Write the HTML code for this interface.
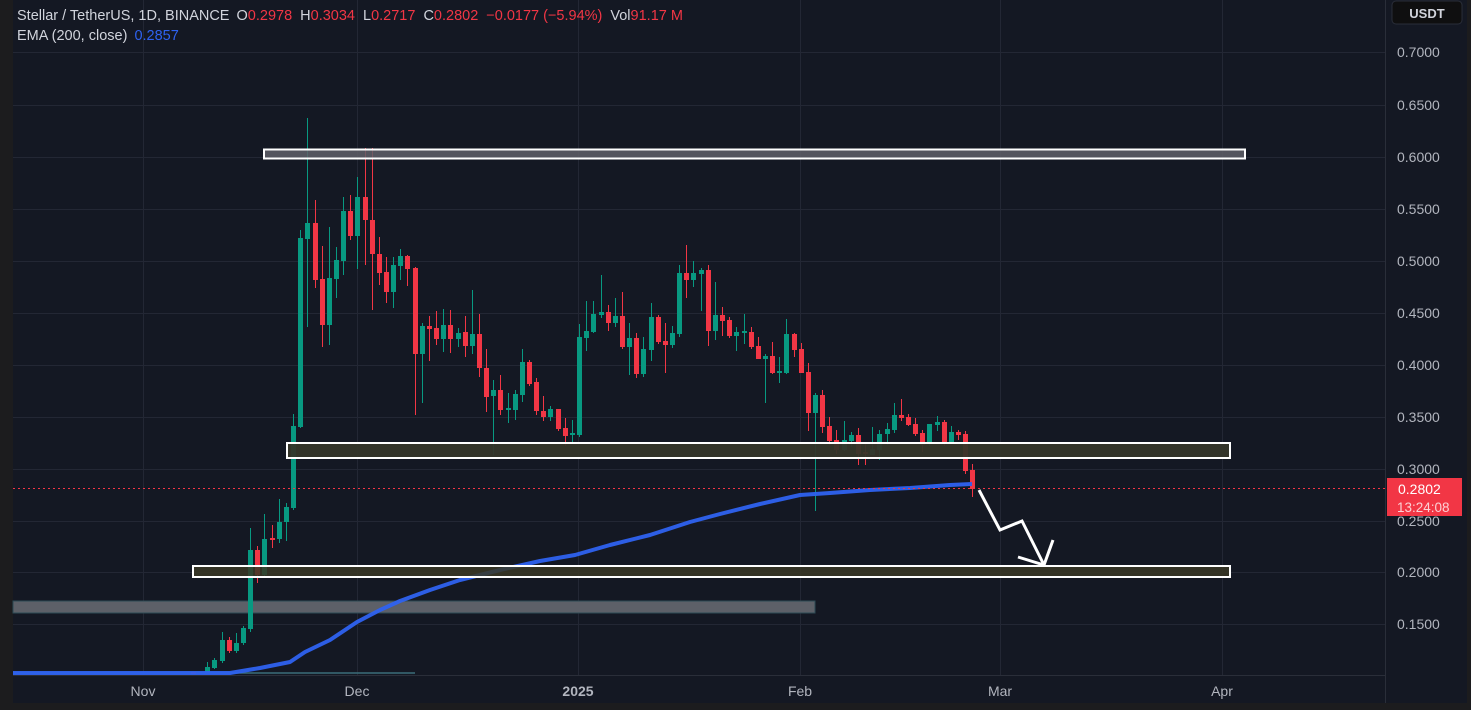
<!DOCTYPE html>
<html><head><meta charset="utf-8"><style>
html,body{margin:0;padding:0;background:#141823;width:1471px;height:710px;overflow:hidden;font-family:"Liberation Sans",sans-serif}
</style></head><body>
<svg id="s" width="1471" height="710" xmlns="http://www.w3.org/2000/svg" style="position:absolute;left:0;top:0">
<rect x="0" y="0" width="1471" height="710" fill="#141823"/>
<rect x="0" y="0" width="13" height="710" fill="#1c1c1e"/>
<rect x="13" y="703" width="1458" height="7" fill="#1c1c1e"/>
<rect x="1467" y="0" width="4" height="710" fill="#1c1c1e"/>
<g stroke="#232734" stroke-width="1">
<line x1="13" y1="52.5" x2="1385" y2="52.5"/><line x1="13" y1="105.5" x2="1385" y2="105.5"/>
<line x1="13" y1="157.5" x2="1385" y2="157.5"/><line x1="13" y1="209.5" x2="1385" y2="209.5"/>
<line x1="13" y1="261.5" x2="1385" y2="261.5"/><line x1="13" y1="313.5" x2="1385" y2="313.5"/>
<line x1="13" y1="365.5" x2="1385" y2="365.5"/><line x1="13" y1="417.5" x2="1385" y2="417.5"/>
<line x1="13" y1="469.5" x2="1385" y2="469.5"/><line x1="13" y1="521.5" x2="1385" y2="521.5"/>
<line x1="13" y1="572.5" x2="1385" y2="572.5"/><line x1="13" y1="624.5" x2="1385" y2="624.5"/>
<line x1="143.5" y1="0" x2="143.5" y2="675"/><line x1="357.5" y1="0" x2="357.5" y2="675"/>
<line x1="578.5" y1="0" x2="578.5" y2="675"/><line x1="800.5" y1="0" x2="800.5" y2="675"/>
<line x1="1000.5" y1="0" x2="1000.5" y2="675"/><line x1="1222.5" y1="0" x2="1222.5" y2="675"/>
</g>
<line x1="1385.5" y1="0" x2="1385.5" y2="703" stroke="#2a2e39"/>
<line x1="13" y1="675.5" x2="1385" y2="675.5" stroke="#2a2e39"/>
<rect x="13" y="601" width="802" height="12" fill="#5d6068" stroke="#2c4a55" stroke-width="1"/>
<line x1="13" y1="673" x2="415" y2="673" stroke="#3b6e7a" stroke-width="1.5"/>
<g id="candles"></g>
<polyline fill="none" stroke="#2e62f0" stroke-width="4" stroke-linejoin="round" opacity="0.95" points="13,673 230,673 260,668 290,662 305,652 330,640 357,622 380,610 400,601 430,590 460,580 500,570 540,561 575,555 610,545 650,535 690,522 720,514 760,504 800,495 830,493 870,490 910,488 950,485 972,484"/>
<rect x="264" y="149.5" width="981" height="9" fill="#5f6068" fill-opacity="0.85" stroke="#fff" stroke-width="2"/>
<rect x="287" y="443" width="943" height="15" fill="#35362a" fill-opacity="0.95" stroke="#fff" stroke-width="2"/>
<rect x="193" y="566" width="1037" height="11" fill="#3a3826" fill-opacity="0.85" stroke="#fff" stroke-width="2"/>
<line x1="13" y1="488.5" x2="1385" y2="488.5" stroke="#f23645" stroke-width="1" stroke-dasharray="2,3"/>
<polyline fill="none" stroke="#fff" stroke-width="3" stroke-linejoin="miter" points="979,490 1000,530 1022,521 1044,565"/>
<polyline fill="none" stroke="#fff" stroke-width="3" points="1018,557 1044,565 1053,540"/>
<g fill="#b2b5be" font-size="14" font-family="Liberation Sans, sans-serif">
<text x="1397" y="57">0.7000</text><text x="1397" y="110">0.6500</text><text x="1397" y="162">0.6000</text>
<text x="1397" y="214">0.5500</text><text x="1397" y="266">0.5000</text><text x="1397" y="318">0.4500</text>
<text x="1397" y="370">0.4000</text><text x="1397" y="422">0.3500</text><text x="1397" y="474">0.3000</text>
<text x="1397" y="526">0.2500</text><text x="1397" y="577">0.2000</text><text x="1397" y="629">0.1500</text>
<text x="143" y="696" text-anchor="middle">Nov</text><text x="357" y="696" text-anchor="middle">Dec</text>
<text x="578" y="696" text-anchor="middle" font-weight="bold">2025</text><text x="800" y="696" text-anchor="middle">Feb</text>
<text x="1000" y="696" text-anchor="middle">Mar</text><text x="1222" y="696" text-anchor="middle">Apr</text>
</g>
<rect x="1392" y="1" width="70" height="23" rx="4" fill="#0f0f10" stroke="#2a2e39"/>
<text x="1427" y="18" text-anchor="middle" fill="#d1d4dc" font-size="13" font-weight="bold">USDT</text>
<rect x="1387" y="478" width="75" height="38" fill="#f23645"/>
<text x="1398" y="494" fill="#fff" font-size="14">0.2802</text>
<text x="1397" y="512" fill="#fcd0d4" font-size="13.5">13:24:08</text>
<g font-size="14.5" font-family="Liberation Sans, sans-serif">
<text x="17" y="20" fill="#d1d4dc">Stellar / TetherUS, 1D, BINANCE <tspan fill="#d1d4dc" dx="3">O</tspan><tspan fill="#f23645">0.2978</tspan><tspan fill="#d1d4dc" dx="8">H</tspan><tspan fill="#f23645">0.3034</tspan><tspan fill="#d1d4dc" dx="8">L</tspan><tspan fill="#f23645">0.2717</tspan><tspan fill="#d1d4dc" dx="8">C</tspan><tspan fill="#f23645">0.2802</tspan><tspan fill="#f23645" dx="8">−0.0177 (−5.94%)</tspan><tspan fill="#d1d4dc" dx="8">Vol</tspan><tspan fill="#f23645">91.17 M</tspan></text>
<text x="17" y="40" fill="#d1d4dc">EMA (200, close) <tspan fill="#2e62f0" dx="3">0.2857</tspan></text>
</g>
</svg>
<script>
var C=[
[193,672,674,672,674,'r'],[207,667,673,662,673,'g'],[214,660,668,658,669,'g'],[222,640,661,632,663,'g'],
[229,640,651,637,653,'r'],[236,643,651,633,653,'g'],[243,628,643,626,645,'g'],[250,550,629,528,632,'g'],
[257,550,575,546,583,'r'],[264,539,575,514,577,'g'],[272,538,540,525,548,'r'],[279,522,539,499,543,'g'],
[286,507,522,503,541,'g'],[293,426,508,414,510,'g'],[300,238,427,230,428,'g'],[307,223,239,118,327,'g'],
[315,223,280,200,288,'r'],[322,279,325,246,347,'r'],[329,278,325,227,345,'g'],[336,260,279,247,298,'g'],
[343,211,261,197,275,'g'],[350,211,236,195,240,'r'],[357,197,236,177,269,'g'],[365,197,220,148,265,'r'],
[372,220,254,148,310,'r'],[379,254,273,237,285,'r'],[386,272,292,257,303,'r'],[393,265,292,257,308,'g'],
[400,256,266,249,280,'g'],[407,256,269,255,286,'r'],[415,268,354,267,415,'r'],[422,326,354,323,403,'g'],
[429,326,329,316,361,'r'],[436,328,339,311,345,'r'],[443,325,339,309,352,'g'],[450,325,339,310,353,'r'],
[458,333,339,328,347,'g'],[465,332,346,316,357,'r'],[472,334,346,290,354,'g'],[479,334,368,314,377,'r'],
[486,368,397,349,412,'r'],[493,390,396,380,455,'g'],[500,390,410,375,415,'r'],[508,408,410,393,423,'g'],
[515,394,410,390,420,'g'],[522,362,395,349,402,'g'],[529,362,384,360,386,'r'],[536,382,411,378,415,'r'],
[543,411,417,396,421,'r'],[550,409,417,406,421,'g'],[558,409,429,409,431,'r'],[565,428,436,418,446,'r'],
[572,433,435,420,443,'g'],[579,337,435,324,437,'g'],[586,331,338,301,351,'g'],[593,314,332,301,333,'g'],
[601,312,315,275,318,'g'],[608,312,323,305,331,'r'],[615,316,323,298,327,'g'],[622,316,347,292,349,'r'],
[629,338,347,323,375,'g'],[636,338,374,333,378,'r'],[643,349,374,337,377,'g'],[651,317,350,303,361,'g'],
[658,317,342,315,344,'r'],[665,341,345,323,373,'r'],[672,333,345,326,348,'g'],[679,273,334,265,337,'g'],
[686,273,280,245,298,'r'],[693,273,280,261,287,'g'],[701,270,274,268,311,'g'],[708,270,331,265,346,'r'],
[715,315,331,282,340,'g'],[722,315,321,307,336,'r'],[729,320,336,317,338,'r'],[736,332,336,327,351,'g'],
[744,331,333,314,344,'g'],[751,332,347,327,349,'r'],[758,346,359,337,359,'r'],[765,356,359,354,403,'g'],
[772,356,373,342,374,'r'],[779,371,373,357,383,'g'],[786,334,373,319,374,'g'],[794,334,350,333,357,'r'],
[801,349,373,343,373,'r'],[808,372,413,363,431,'r'],[815,395,413,393,511,'g'],[822,395,427,390,433,'r'],
[829,426,441,417,445,'r'],[836,440,450,430,454,'r'],[844,440,450,421,451,'g'],[851,435,441,432,447,'g'],
[858,435,454,428,465,'r'],[865,452,454,444,465,'r'],[872,449,455,427,455,'g'],[879,434,450,430,460,'g'],
[887,429,434,423,445,'g'],[894,415,430,403,433,'g'],[901,415,418,399,421,'r'],[908,417,425,414,426,'r'],
[915,424,434,418,436,'r'],[922,433,445,430,452,'r'],[929,424,444,424,446,'g'],[937,422,425,416,431,'g'],
[944,422,442,420,446,'r'],[951,432,442,426,443,'g'],[958,432,435,430,440,'r'],[965,434,471,431,474,'r'],
[972,470,489,464,497,'r']];
var g=document.getElementById('candles'),h='';
C.forEach(function(c){var col=c[5]=='g'?'#089981':'#f23645';
h+='<line x1="'+c[0]+'.5" y1="'+c[3]+'" x2="'+c[0]+'.5" y2="'+c[4]+'" stroke="'+col+'" stroke-width="1"/>';
h+='<rect x="'+(c[0]-2)+'" y="'+c[1]+'" width="5" height="'+Math.max(1.5,c[2]-c[1])+'" fill="'+col+'"/>';});
g.innerHTML=h;
</script>
</body></html>
